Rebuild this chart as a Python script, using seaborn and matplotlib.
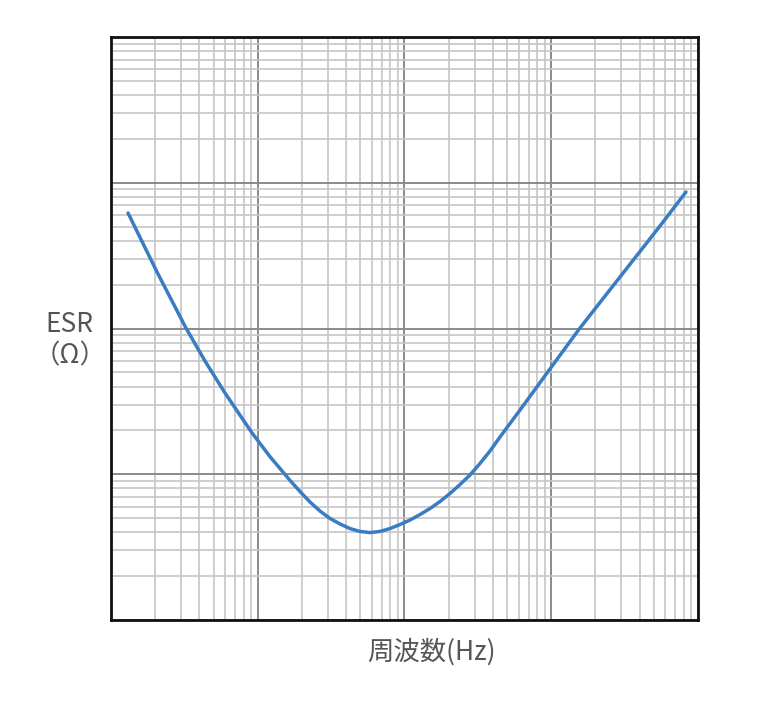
import seaborn as sns
import pandas as pd
import numpy as np
import matplotlib.pyplot as plt
from matplotlib.ticker import LogLocator, NullFormatter

sns.set_theme(style="white")
plt.rcParams['font.family'] = ['Noto Sans CJK JP', 'DejaVu Sans']

# ESR curve (frequency in Hz, ESR in ohm)
freq = [13.06, 20.58, 32.4, 43.7, 59.8, 91.4, 121.2, 141.8, 166, 194.1, 227,
        265.6, 311, 363.5, 425, 497.5, 582, 680.8, 796, 931.8, 1090, 1275,
        1492, 1746, 2042, 2389, 2795, 3269, 3825, 4476, 6126, 9357, 15700,
        29410, 55100, 82840]
esr = [6.20, 2.44, 1.008, 0.598, 0.361, 0.192, 0.132, 0.1095, 0.0906, 0.0761,
       0.0645, 0.0559, 0.0497, 0.0456, 0.0424, 0.0405, 0.0398, 0.0405, 0.0424,
       0.0452, 0.0485, 0.0529, 0.0582, 0.0650, 0.0738, 0.0850, 0.0988, 0.1185,
       0.1444, 0.1802, 0.2759, 0.495, 1.008, 2.256, 5.05, 8.64]

df = pd.DataFrame({"freq": freq, "esr": esr})

fig = plt.figure(figsize=(7.83, 7.02), dpi=100)
ax = fig.add_axes([0.1418, 0.1168, 0.7496, 0.8305])

ax.set_xscale("log")
ax.set_yscale("log")
ax.set_xlim(10, 1e5)
ax.set_ylim(0.01, 100)

sns.lineplot(data=df, x="freq", y="esr", ax=ax, color="#3a7cc3",
             linewidth=2.5, solid_capstyle="round", solid_joinstyle="round")

# log grid, majors darker than minors
for axis in (ax.xaxis, ax.yaxis):
    axis.set_major_locator(LogLocator(base=10, numticks=10))
    axis.set_minor_locator(LogLocator(base=10, subs=np.arange(2, 10), numticks=20))
    axis.set_major_formatter(NullFormatter())
    axis.set_minor_formatter(NullFormatter())
ax.grid(True, which="major", color="#8a8a8a", linewidth=1.4)
ax.grid(True, which="minor", color="#c6c6c6", linewidth=1.2)
ax.set_axisbelow(True)
ax.tick_params(which="both", length=0)
ax.set_xlabel("")
ax.set_ylabel("")

for s in ax.spines.values():
    s.set_color("#111111")
    s.set_linewidth(2)

fig.text(0.551, 0.071, "周波数(Hz)", ha="center", va="center",
         fontsize=19, color="#555555")
fig.text(0.089, 0.515, "ESR\n（Ω）", ha="center", va="center",
         multialignment="center", fontsize=19, color="#555555", linespacing=1.2)

fig.savefig("out.png", dpi=100, facecolor="white")
